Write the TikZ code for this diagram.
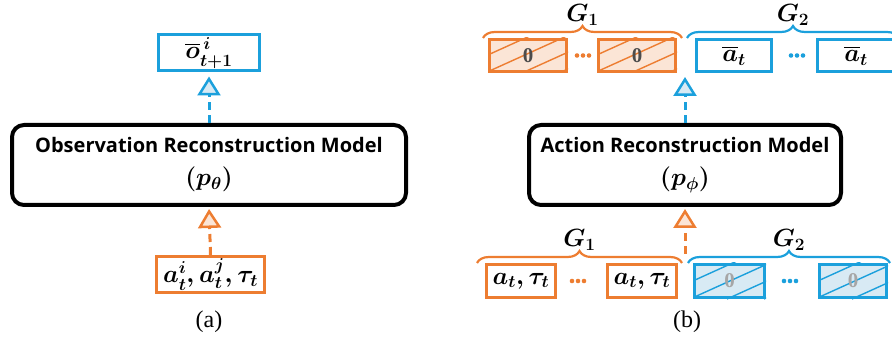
\documentclass[tikz,border=0pt]{standalone}
\usepackage{amsmath}
\usepackage{fontspec}
\setmainfont{Liberation Serif}
\newfontfamily\modelfont{Open Sans}
\newfontfamily\capfont{Liberation Serif}
\usetikzlibrary{arrows.meta, calc, positioning, decorations.pathreplacing}
\definecolor{Orng}{RGB}{237,125,49}
\definecolor{Blu}{RGB}{27,160,220}
\definecolor{OrngFill}{RGB}{251,229,214}
\definecolor{BluFill}{RGB}{216,234,244}

% diagonal hatching inside a node
\newcommand\hatchnode[2]{%
  \begin{scope}
    \clip (#1.south west) rectangle (#1.north east);
    \foreach \k in {-40,-3,34,71}
      \draw[#2, line width=1.4pt] ($(#1.south west)+(\k,0)$) -- ++(84,-38);
  \end{scope}}
% model parameter line
\newcommand\param[1]{{\fontsize{25}{30}\selectfont\boldmath$(p_{#1})$}}

\begin{document}
\begin{tikzpicture}[
  x=1pt, y=-1pt,
  model/.style={draw, rounded corners=12pt, line width=4pt, align=center,
                font=\modelfont\bfseries\fontsize{20}{33}\selectfont},
  vbox/.style={draw, line width=3pt, inner sep=0pt,
               font=\boldmath\fontsize{23}{26}\selectfont},
  obox/.style={vbox, draw=Orng},
  bbox/.style={vbox, draw=Blu},
  zbox/.style={vbox, draw=none, font=\fontsize{21}{24}\selectfont},
  darr/.style={dash pattern=on 8pt off 5pt, line width=3pt},
  ohead/.style={-{Triangle[length=19pt, width=23pt, fill=OrngFill, line width=2.5pt]}},
  bhead/.style={-{Triangle[length=19pt, width=23pt, fill=BluFill, line width=2.5pt]}},
  brc/.style={decorate, decoration={brace, amplitude=12pt}, line width=2.2pt},
  glab/.style={font=\boldmath\fontsize{23}{26}\selectfont},
  sub/.style={font=\capfont\fontsize{24}{28}\selectfont}
]
\useasboundingbox (0,0) rectangle (892,339);

% ---- (a) observation branch
\node[model, minimum width=394pt, minimum height=80pt] (om) at (209,165)
  {Observation Reconstruction Model\\\param{\theta}};
\node[bbox, minimum width=101pt, minimum height=36pt] (onext) at (209,53)
  {$\overline{o}^{\,i}_{t+1}$};
\node[obox, minimum width=108pt, minimum height=36pt] (oin) at (210.5,274.5)
  {$a^i_t, a^j_t, \tau_t$};
\node[sub] (capa) at (209,322) {(a)};

\draw[darr, bhead, Blu, shorten >=4pt] (om.north) -- (onext.south);
\draw[darr, ohead, Orng, shorten >=2pt] (oin.north) -- (om.south);

% ---- (b) action branch
\node[model, minimum width=312pt, minimum height=80pt] (am) at (685,165)
  {Action Reconstruction Model\\\param{\phi}};

% output row
\node[obox, fill=OrngFill, minimum width=77pt, minimum height=32pt] (zo1) at (528,55.5) {};
\node[obox, fill=OrngFill, minimum width=77pt, minimum height=32pt] (zo2) at (637,55.5) {};
\hatchnode{zo1}{Orng}
\hatchnode{zo2}{Orng}
\node[zbox, text=black!70] at (zo1) {$\mathbf{0}$};
\node[zbox, text=black!70] at (zo2) {$\mathbf{0}$};
\node[bbox, minimum width=75pt, minimum height=32pt] (ab1) at (734,55.5) {$\overline{a}_t$};
\node[bbox, minimum width=77pt, minimum height=32pt] (ab2) at (856,55.5) {$\overline{a}_t$};

% input row
\node[obox, minimum width=69pt, minimum height=33pt] (ai1) at (521,281) {$a_t, \tau_t$};
\node[obox, minimum width=69pt, minimum height=33pt] (ai2) at (642,281) {$a_t, \tau_t$};
\node[bbox, fill=BluFill, minimum width=70pt, minimum height=33pt] (zi1) at (729.5,281) {};
\node[bbox, fill=BluFill, minimum width=67pt, minimum height=33pt] (zi2) at (853,281) {};
\hatchnode{zi1}{Blu}
\hatchnode{zi2}{Blu}
\node[zbox, text=black!35] at (zi1) {$\mathbf{0}$};
\node[zbox, text=black!35] at (zi2) {$\mathbf{0}$};

% ellipsis dots
\foreach \cx/\cy/\col in {583/55.5/Orng, 797/55.5/Blu, 578/281/Orng, 790/281/Blu}
  \foreach \d in {-6,0,6}
    \fill[\col] (\cx+\d,\cy) circle (2.3pt);

% groups
\draw[brc, Orng] (483,38) -- node[glab, text=black, yshift=23pt] (g1o) {$G_1$} (682,38);
\draw[brc, Blu] (687,38) -- node[glab, text=black, yshift=23pt] (g2o) {$G_2$} (899,38);
\draw[brc, Orng] (477,263) -- node[glab, text=black, yshift=23pt] (g1i) {$G_1$} (682,263);
\draw[brc, Blu] (688,263) -- node[glab, text=black, yshift=23pt] (g2i) {$G_2$} (890,263);

\coordinate (aout) at (685,73);
\coordinate (ain) at (685,254);
\draw[darr, bhead, Blu, shorten >=4pt] (am.north) -- (aout);
\draw[darr, ohead, Orng, shorten >=2pt] (ain) -- (am.south);
\node[sub] (capb) at (687,322) {(b)};
\end{tikzpicture}
\end{document}
